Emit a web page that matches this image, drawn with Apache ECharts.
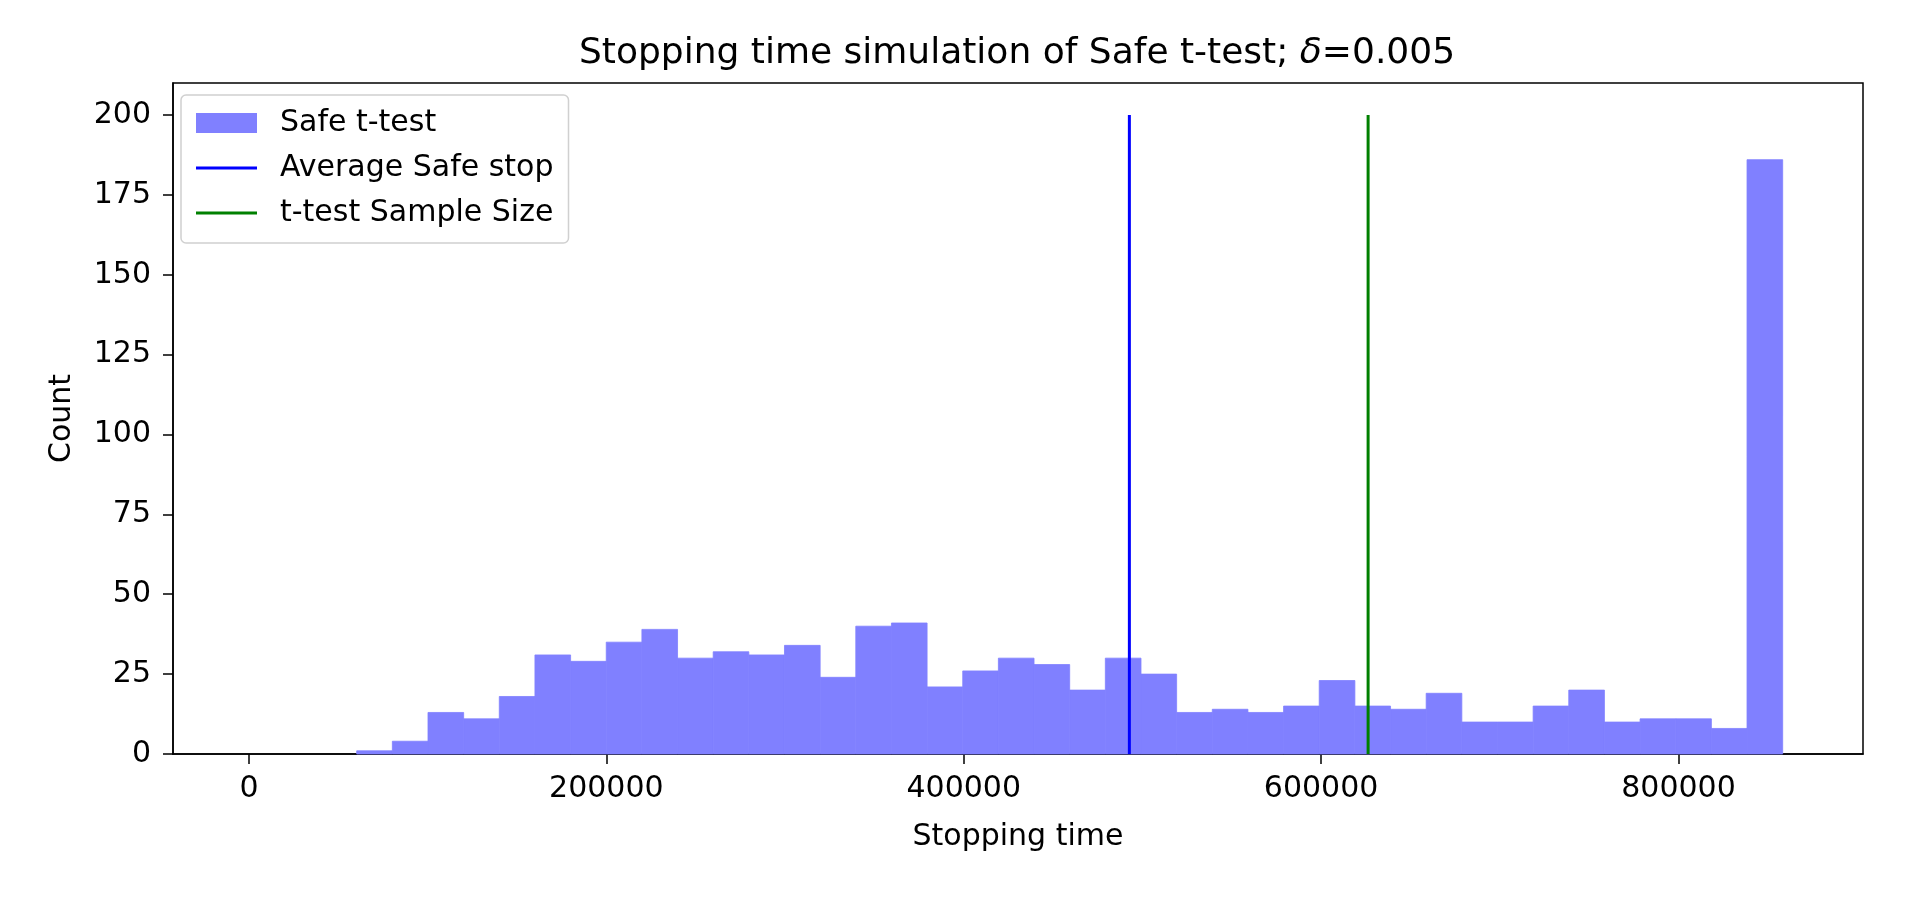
<!DOCTYPE html>
<html>
<head>
<meta charset="utf-8">
<script src="https://cdn.jsdelivr.net/npm/echarts@6/dist/echarts.min.js"></script>
<style>
html,body{margin:0;padding:0;background:#fff;}
#chart{width:1920px;height:902px;}
</style>
</head>
<body>
<div id="chart"></div>
<script>
// Histogram bin edges (stopping time) and counts per bin
const binEdges = [450, 20400, 40350, 60300, 80250, 100200, 120150, 140100, 160050, 180000,
  199950, 219900, 239850, 259800, 279750, 299700, 319650, 339600, 359550, 379500,
  399450, 419400, 439350, 459300, 479250, 499200, 519150, 539100, 559050, 579000,
  598950, 618900, 638850, 658800, 678750, 698700, 718650, 738600, 758550, 778500,
  798450, 818400, 838350, 858300];
const binCounts = [0, 0, 0, 1, 4, 13, 11, 18, 31, 29,
  35, 39, 30, 32, 31, 34, 24, 40, 41, 21,
  26, 30, 28, 20, 30, 25, 13, 14, 13, 15,
  23, 15, 14, 19, 10, 10, 15, 20, 10, 11,
  11, 8, 186];
const averageSafeStop = 492700;
const tTestSampleSize = 626300;
const vlineRange = [0, 200];
const xTicks = [0, 200000, 400000, 600000, 800000];
const yTicks = [0, 25, 50, 75, 100, 125, 150, 175, 200];

const histData = binCounts.map((c, i) => [binEdges[i], binEdges[i + 1], c]);

const FONT = 'DejaVu Sans';
const chart = echarts.init(document.getElementById('chart'));
chart.setOption({
  animation: false,
  backgroundColor: '#ffffff',
  textStyle: { fontFamily: FONT },
  title: {
    text: '{n|Stopping time simulation of Safe t-test; }{i|δ}{n|=0.005}',
    left: 1012,
    top: 31,
    textAlign: 'center',
    textStyle: {
      fontWeight: 'normal',
      rich: {
        n: { fontFamily: FONT, fontSize: 36, fontWeight: 'normal', color: '#000' },
        i: { fontFamily: FONT, fontSize: 36, fontWeight: 'normal', fontStyle: 'italic', color: '#000' }
      }
    }
  },
  legend: {
    orient: 'vertical',
    left: 181,
    top: 95,
    padding: [12, 15, 14, 15],
    backgroundColor: 'rgba(255,255,255,0.8)',
    borderColor: '#d0d0d0',
    borderWidth: 1.5,
    borderRadius: 5,
    itemWidth: 61,
    itemHeight: 20,
    itemGap: 13,
    selectedMode: false,
    textStyle: { fontFamily: FONT, fontSize: 30, color: '#000', lineHeight: 32, padding: [0, 0, 0, 18] },
    data: [
      { name: 'Safe t-test', icon: 'rect' },
      { name: 'Average Safe stop', icon: 'path://M0,0L20,0L20,1L0,1Z' },
      { name: 't-test Sample Size', icon: 'path://M0,0L20,0L20,1L0,1Z' }
    ]
  },
  grid: {
    left: 173,
    right: 57,
    top: 83,
    bottom: 148,
    show: true,
    borderColor: '#000',
    borderWidth: 1.5,
    backgroundColor: 'transparent'
  },
  xAxis: {
    type: 'value',
    min: -42500,
    max: 903250,
    name: 'Stopping time',
    nameLocation: 'middle',
    nameGap: 68,
    nameTextStyle: { fontFamily: FONT, fontSize: 30, color: '#000' },
    axisLine: { show: true, onZero: false, lineStyle: { color: '#000', width: 1.5 } },
    axisTick: { show: true, length: 10, customValues: xTicks, lineStyle: { color: '#000', width: 1.5 } },
    axisLabel: { customValues: xTicks, margin: 20, fontFamily: FONT, fontSize: 30, color: '#000',
      formatter: v => String(v) },
    splitLine: { show: false }
  },
  yAxis: {
    type: 'value',
    min: 0,
    max: 210,
    name: 'Count',
    nameLocation: 'middle',
    nameGap: 96,
    nameTextStyle: { fontFamily: FONT, fontSize: 30, color: '#000' },
    axisLine: { show: true, onZero: false, lineStyle: { color: '#000', width: 1.5 } },
    axisTick: { show: true, length: 10, customValues: yTicks, lineStyle: { color: '#000', width: 1.5 } },
    axisLabel: { customValues: yTicks, margin: 22, fontFamily: FONT, fontSize: 30, color: '#000' },
    splitLine: { show: false }
  },
  series: [
    {
      name: 'Safe t-test',
      type: 'custom',
      itemStyle: { color: '#8080ff' },
      encode: { x: [0, 1], y: 2 },
      data: histData,
      renderItem: function (params, api) {
        const count = api.value(2);
        if (!count) return null;
        const p0 = api.coord([api.value(0), count]);
        const p1 = api.coord([api.value(1), 0]);
        return {
          type: 'rect',
          shape: { x: p0[0], y: p0[1], width: p1[0] - p0[0], height: p1[1] - p0[1] },
          style: { fill: '#8080ff', stroke: '#8080ff', lineWidth: 0.8 }
        };
      }
    },
    {
      name: 'Average Safe stop',
      type: 'line',
      symbol: 'none',
      color: '#0000ff',
      lineStyle: { color: '#0000ff', width: 3 },
      data: vlineRange.map(v => [averageSafeStop, v])
    },
    {
      name: 't-test Sample Size',
      type: 'line',
      symbol: 'none',
      color: '#008000',
      lineStyle: { color: '#008000', width: 3 },
      data: vlineRange.map(v => [tTestSampleSize, v])
    }
  ]
});
</script>
</body>
</html>
